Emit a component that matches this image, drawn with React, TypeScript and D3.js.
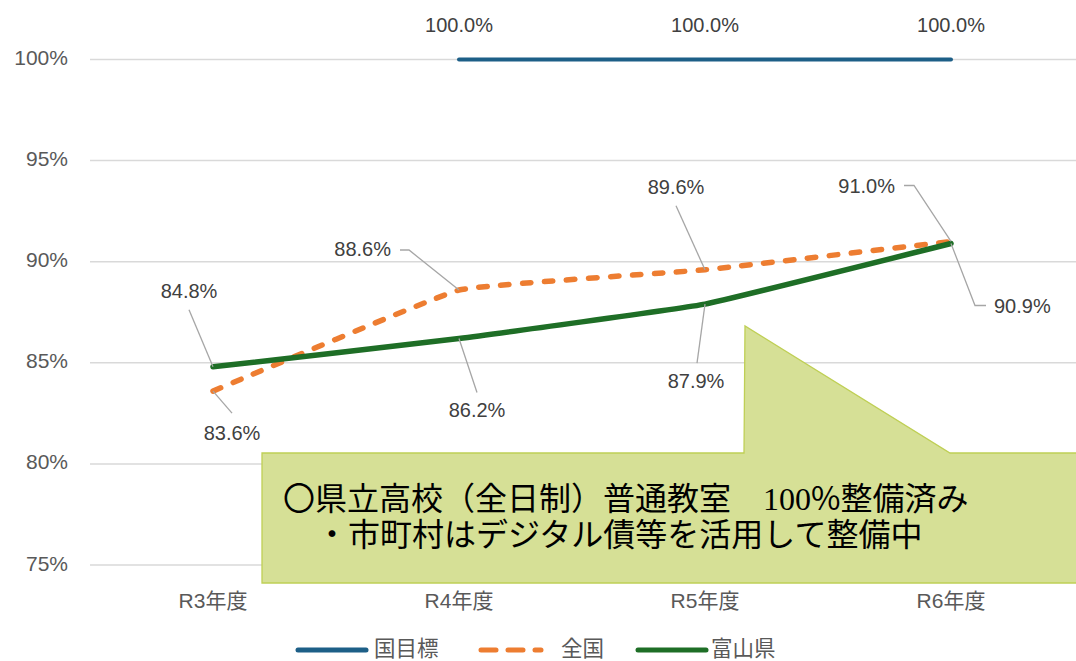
import React from "react";
import * as d3 from "d3";

const categories = ["R3年度", "R4年度", "R5年度", "R6年度"];
const targetValues: (number | null)[] = [null, 100, 100, 100];
const nationalValues = [83.6, 88.6, 89.6, 91.0];
const toyamaValues = [84.8, 86.2, 87.9, 90.9];
const yTicks = [75, 80, 85, 90, 95, 100];
const seriesNames = ["国目標", "全国", "富山県"];

const W = 1076, H = 661;
const FONT = "'Liberation Sans', Arial, 'Noto Sans CJK JP', sans-serif";
const JP = "'Noto Sans CJK JP', sans-serif";
const SERIF = "'Liberation Serif', 'Times New Roman', serif";

type Lbl = { tx: number; ty: number; anchor: string; leader: [number, number][] };
const natLabels: Lbl[] = [
  { tx: 19, ty: 44, anchor: "middle", leader: [[0, 0], [19, 22]] },
  { tx: -68, ty: -39, anchor: "end", leader: [[0, 0], [-50, -40], [-59, -40]] },
  { tx: -29, ty: -81, anchor: "middle", leader: [[0, 0], [-29, -64]] },
  { tx: -56, ty: -54, anchor: "end", leader: [[0, 0], [-37, -56], [-47, -56]] },
];
const toyLabels: Lbl[] = [
  { tx: -24, ty: -74, anchor: "middle", leader: [[0, 0], [-24, -57]] },
  { tx: 18, ty: 73, anchor: "middle", leader: [[0, 0], [18, 54]] },
  { tx: -9, ty: 79, anchor: "middle", leader: [[0, 0], [-8, 59]] },
  { tx: 43, ty: 64, anchor: "start", leader: [[0, 0], [24, 62], [35, 62]] },
];

export default function App() {
  const x = d3.scaleBand<string>().domain(categories).range([90, 1074]);
  const cx = (c: string) => (x(c) as number) + x.bandwidth() / 2;
  const y = d3.scaleLinear().domain([75, 100]).range([565, 59.5]);
  const line = d3
    .line<number | null>()
    .defined((d) => d !== null)
    .x((_, i) => cx(categories[i]))
    .y((d) => y(d as number))
    .curve(d3.curveCardinal.tension(0.75));

  const blue = "#1d5f87";
  const orange = "#ed7d31";
  const green = "#1e6e26";
  const labelColor = "#404040";

  const renderLabels = (vals: number[], lbls: Lbl[], key: string) =>
    vals.map((v, i) => {
      const px = cx(categories[i]);
      const py = y(v);
      const l = lbls[i];
      const pts = l.leader.map(([a, b]) => `${px + a},${py + b}`).join(" ");
      return (
        <g key={key + i}>
          <polyline points={pts} fill="none" stroke="#a6a6a6" strokeWidth={1.3} />
          <text x={px + l.tx} y={py + l.ty} textAnchor={l.anchor} dominantBaseline="middle"
            fontSize={20} fill={labelColor} fontFamily={FONT}>
            {d3.format(".1f")(v) + "%"}
          </text>
        </g>
      );
    });

  const calloutPath = `M262,453 L744,453 L745,326 L950,453 L1080,453 L1080,583 L262,583 Z`;

  const legendItems = [
    { name: seriesNames[0], color: blue, dash: "none", x1: 298, x2: 366, tx: 374 },
    { name: seriesNames[1], color: orange, dash: "15 12", x1: 481, x2: 541, tx: 561 },
    { name: seriesNames[2], color: green, dash: "none", x1: 638, x2: 706, tx: 711 },
  ];

  return (
    <svg width={W} height={H} style={{ position: "absolute", left: 0, top: 0, background: "#fff" }}>
      {yTicks.map((t) => (
        <g key={t}>
          <line x1={90} x2={1076} y1={y(t)} y2={y(t)} stroke="#d9d9d9" strokeWidth={1.5} />
          <text x={68} y={y(t)} textAnchor="end" dominantBaseline="middle" fontSize={21}
            fill="#595959" fontFamily={FONT}>{t}%</text>
        </g>
      ))}
      {categories.map((c) => (
        <text key={c} x={cx(c)} y={602} textAnchor="middle" dominantBaseline="middle"
          fontSize={21} fill="#595959" fontFamily={FONT}>{c}</text>
      ))}

      <path d={line(targetValues) || ""} fill="none" stroke={blue} strokeWidth={4} strokeLinecap="round" />
      <path d={line(nationalValues) || ""} fill="none" stroke={orange} strokeWidth={5.5} strokeDasharray="8.5 13.5" strokeLinecap="round" />
      <path d={line(toyamaValues) || ""} fill="none" stroke={green} strokeWidth={5.5} strokeLinecap="round" />

      {targetValues.map((v, i) =>
        v === null ? null : (
          <text key={"t" + i} x={cx(categories[i])} y={27} textAnchor="middle" dominantBaseline="middle"
            fontSize={20} fill={labelColor} fontFamily={FONT}>{d3.format(".1f")(v)}%</text>
        )
      )}
      {renderLabels(nationalValues, natLabels, "n")}
      {renderLabels(toyamaValues, toyLabels, "g")}

      <path d={calloutPath} fill="#d6e096" stroke="#bfcf55" strokeWidth={1.3} />
      <text x={283} y={510} fontSize={32} fill="#000" fontFamily={JP}>
        {"〇県立高校（全日制）普通教室\u3000"}
        <tspan fontFamily={SERIF}>{"100"}</tspan>
        <tspan fontFamily={JP}>{"%整備済み"}</tspan>
      </text>
      <text x={316} y={546} fontSize={32} fill="#000" fontFamily={JP}>{"・市町村はデジタル債等を活用して整備中"}</text>

      {legendItems.map((l) => (
        <g key={l.name}>
          <line x1={l.x1} x2={l.x2} y1={650} y2={650} stroke={l.color} strokeWidth={5}
            strokeDasharray={l.dash} strokeLinecap="round" />
          <text x={l.tx} y={650} dominantBaseline="middle" fontSize={21.5} fill="#595959" fontFamily={JP}>{l.name}</text>
        </g>
      ))}
    </svg>
  );
}
